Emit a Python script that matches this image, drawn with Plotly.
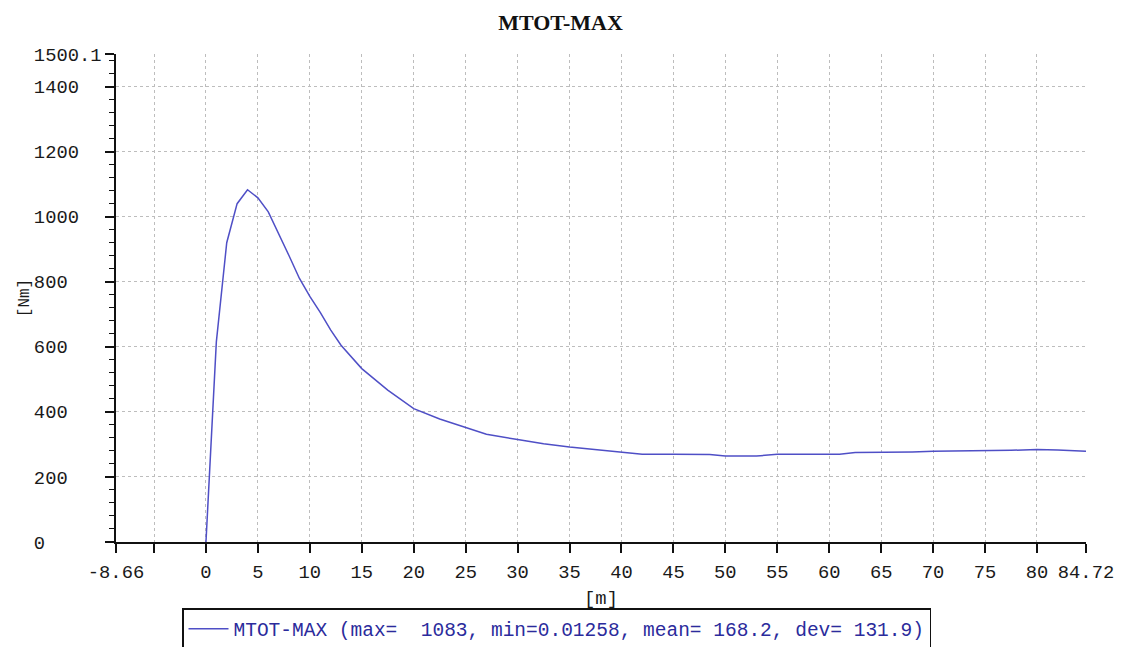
import plotly.graph_objects as go

# ---- data ----
x_m = [0, 1, 2, 3, 4, 5, 6, 7, 8, 9, 10, 11, 12, 13, 15, 17.5, 20, 22.5, 25, 27,
       30, 32.5, 35, 37.5, 40, 42, 45, 48.5, 50, 53, 55, 60, 61, 62.5, 65, 68,
       70, 75, 77.5, 80, 82, 84.72]
mtot_max = [0.01258, 615, 920, 1040, 1083, 1058, 1015, 950, 880, 810, 755, 706,
            652, 605, 533, 467, 410, 378, 352, 331, 315, 302, 292, 284, 275, 270,
            270, 269, 264, 264, 270, 270, 270, 275, 275, 277, 279, 280, 282, 284,
            283, 279]

x_tick_vals = [-8.66, -5, 0, 5, 10, 15, 20, 25, 30, 35, 40, 45, 50, 55, 60, 65,
               70, 75, 80, 84.72]
x_tick_text = ["-8.66", "", "0", "5", "10", "15", "20", "25", "30", "35", "40",
               "45", "50", "55", "60", "65", "70", "75", "80", "84.72"]
y_tick_vals = [0, 200, 400, 600, 800, 1000, 1200, 1400, 1500.1]
y_tick_text = ["0", "200", "400", "600", "800", "1000", "1200", "1400", "1500.1"]
y_minor_vals = [v for v in range(40, 1500, 40) if v % 200 != 0]

x_range = [-8.66, 84.72]
y_range = [0, 1500.1]

series_name = "MTOT-MAX (max=\u00a0\u00a01083, min=0.01258, mean=\u00a0168.2, dev=\u00a0131.9)"

MONO = "Liberation Mono"
NB = "\u00a0"
width_chars = max(len(t) for t in y_tick_text)
y_tick_text_padded = [t + NB * (width_chars - len(t)) for t in y_tick_text]

fig = go.Figure()
fig.add_trace(go.Scatter(
    x=x_m, y=mtot_max, mode="lines", name=series_name,
    line=dict(color="#4f4fc6", width=1.5),
))

grid = dict(showgrid=True, gridcolor="#bdbdbd", gridwidth=1, griddash="3px,3px")

fig.update_layout(
    width=1121, height=647,
    margin=dict(l=116, r=35, t=54, b=105, autoexpand=False),
    paper_bgcolor="white", plot_bgcolor="white",
    title=dict(text="<b>MTOT-MAX</b>", x=0.5, xref="container", xanchor="center",
               y=1 - 22 / 647, yref="container", yanchor="middle",
               font=dict(family="Liberation Serif", size=22, color="#111111")),
    font=dict(family=MONO, size=18.8, color="#1a1a1a"),
    showlegend=True,
    legend=dict(x=(182 - 116) / 970, y=(542 - 608) / 488, xanchor="left",
                yanchor="top", bordercolor="#111111", borderwidth=1.5,
                bgcolor="white", font=dict(family=MONO, size=19.5, color="#2b2b9c"),
                itemwidth=40, tracegroupgap=0),
    xaxis=dict(range=x_range, tickmode="array", tickvals=x_tick_vals,
               ticktext=x_tick_text, ticks="outside", ticklen=9, tickwidth=1.5,
               tickcolor="#111111", showline=True, linecolor="#111111",
               linewidth=1.5, zeroline=False, automargin=False,
               ticklabelstandoff=3,
               title=dict(text="[m]", standoff=8,
                          font=dict(family=MONO, size=18.8, color="#1a1a1a")),
               **grid),
    yaxis=dict(range=y_range, tickmode="array", tickvals=y_tick_vals,
               ticktext=y_tick_text_padded, ticks="outside", ticklen=9,
               tickwidth=1.5, tickcolor="#111111", showline=True,
               linecolor="#111111", linewidth=1.5, zeroline=False,
               automargin=False,
               minor=dict(tickmode="array", tickvals=y_minor_vals, ticks="outside",
                          ticklen=5, tickwidth=1.2, tickcolor="#111111",
                          showgrid=False),
               title=dict(text="[Nm]", standoff=0,
                          font=dict(family=MONO, size=16, color="#1a1a1a")),
               **grid),
)

fig.write_html("out.html")
